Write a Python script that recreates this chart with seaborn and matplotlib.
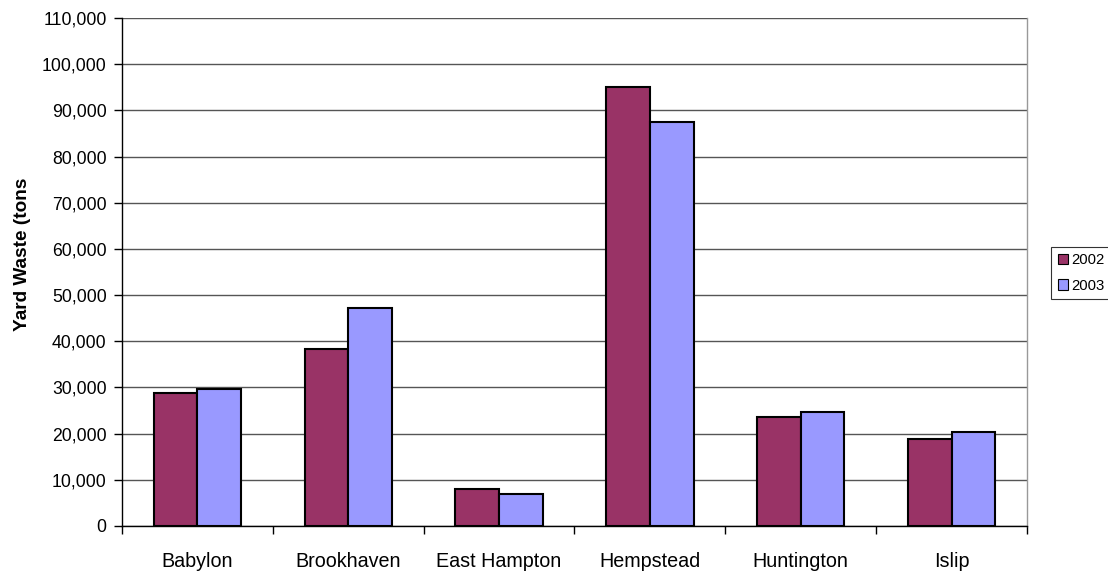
import matplotlib
matplotlib.use("Agg")
import matplotlib.pyplot as plt
from matplotlib.ticker import FuncFormatter, MultipleLocator, FixedLocator
import seaborn as sns
import pandas as pd

towns = ["Babylon", "Brookhaven", "East Hampton", "Hempstead", "Huntington", "Islip"]
years = ["2002", "2003"]
tons_2002 = [28700, 38300, 8100, 95100, 23500, 18900]
tons_2003 = [29600, 47300, 6900, 87500, 24600, 20400]

df = pd.DataFrame({
    "Town": towns * 2,
    "Year": [years[0]] * len(towns) + [years[1]] * len(towns),
    "Tons": tons_2002 + tons_2003,
})

sns.set_theme(style="white")
plt.rcParams["font.family"] = ["Liberation Sans", "DejaVu Sans"]
plt.rcParams["text.color"] = "black"
plt.rcParams["axes.labelcolor"] = "black"
plt.rcParams["xtick.color"] = "black"
plt.rcParams["ytick.color"] = "black"

fig = plt.figure(figsize=(11.08, 5.71), dpi=100)
ax = fig.add_axes([122 / 1108, 45 / 571, 905 / 1108, 508 / 571])

sns.barplot(data=df, x="Town", y="Tons", hue="Year",
            palette={"2002": "#993366", "2003": "#9999FF"},
            width=0.58, edgecolor="black", linewidth=1.5,
            saturation=1, ax=ax, legend=True)

ax.set_ylim(0, 110000)
ax.set_xlim(-0.5, len(towns) - 0.5)
ax.yaxis.set_major_locator(MultipleLocator(10000))
ax.yaxis.set_major_formatter(FuncFormatter(lambda v, p: f"{int(v):,}"))
ax.grid(axis="y", color="#555555", linewidth=1)
ax.set_axisbelow(True)

ax.spines["top"].set_visible(False)
ax.spines["right"].set_color("#999999")
ax.spines["right"].set_linewidth(1)
for side in ["left", "bottom"]:
    ax.spines[side].set_color("black")
    ax.spines[side].set_linewidth(1)

ax.tick_params(axis="y", which="major", direction="out", length=6, width=1,
               color="black", labelcolor="black", labelsize=12.7, left=True, pad=5)
ax.tick_params(axis="x", which="major", length=0, labelcolor="black",
               labelsize=14.2, pad=19)
ax.xaxis.set_minor_locator(FixedLocator([i - 0.5 for i in range(len(towns) + 1)]))
ax.tick_params(axis="x", which="minor", direction="out", length=6, width=1,
               color="black", bottom=True)

ax.set_xlabel("")
ax.set_ylabel("Yard Waste (tons", fontsize=13.7, fontweight="bold", color="black")
ax.yaxis.set_label_coords(-0.1006, 0.535)

leg = ax.legend(loc="center left", bbox_to_anchor=(1051 / 1108, 298 / 571),
                bbox_transform=fig.transFigure, frameon=True, fontsize=10.7,
                fancybox=False, edgecolor="black", handlelength=0.7,
                handleheight=0.7, handletextpad=0.2, borderpad=0.45,
                labelspacing=0.75, borderaxespad=0)
leg.get_frame().set_linewidth(0.8)
for h in leg.legend_handles:
    h.set_edgecolor("black")
    h.set_linewidth(0.8)
for t in leg.get_texts():
    t.set_color("black")

fig.savefig("out.png", dpi=100)
